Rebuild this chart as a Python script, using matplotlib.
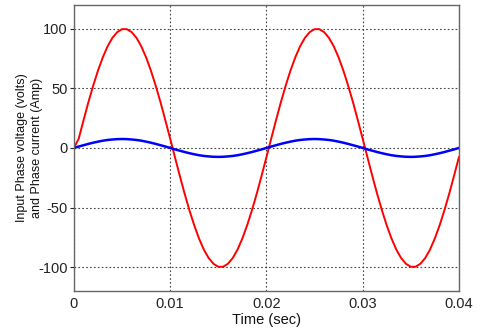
import numpy as np
import matplotlib
matplotlib.use("Agg")
import matplotlib.pyplot as plt

plt.rcParams['font.family'] = ['Liberation Sans', 'DejaVu Sans']
plt.rcParams['axes.unicode_minus'] = False

# sample times (sec), every 0.5 ms from 0 to 0.04
time_s = np.arange(81) * 0.0005

half_v = [7.8, 23.3, 38.3, 52.2, 64.9, 76.0, 85.3, 92.4, 97.2, 99.7,
          99.7, 97.2, 92.4, 85.3, 76.0, 64.9, 52.2, 38.3, 23.3, 7.8]
voltage = [0.0] + half_v + [-v for v in half_v] + half_v + [-v for v in half_v]

half_i = [1.2, 2.3, 3.4, 4.4, 5.3, 6.1, 6.7, 7.1, 7.4, 7.5,
          7.4, 7.1, 6.7, 6.1, 5.3, 4.4, 3.4, 2.3, 1.2, 0.0]
current = [0.0] + half_i + [-v for v in half_i] + half_i + [-v for v in half_i]

x_ticks = [0, 0.01, 0.02, 0.03, 0.04]
x_tick_labels = ['0', '0.01', '0.02', '0.03', '0.04']
y_ticks = [-100, -50, 0, 50, 100]

fig = plt.figure(figsize=(4.8, 3.31), dpi=100)
ax = fig.add_axes([0.154, 0.121, 0.802, 0.864])
ax.plot(time_s, voltage, color='#ff0000', lw=1.4)
ax.plot(time_s, current, color='#0000ff', lw=1.8)
ax.set_xlim(0, 0.04)
ax.set_ylim(-120, 120)
ax.set_xticks(x_ticks)
ax.set_xticklabels(x_tick_labels)
ax.set_yticks(y_ticks)
ax.grid(True, color='#444444', linestyle=(0, (1.5, 2.0)), linewidth=0.8)
ax.tick_params(axis='x', length=0, labelsize=10.5, colors='#222222', pad=4.7)
ax.tick_params(axis='y', direction='out', length=3, width=0.8, labelsize=10.5,
               colors='#222222', pad=1.5)
for s in ax.spines.values():
    s.set_color('#666666')
    s.set_linewidth(1.0)
ax.set_xlabel('Time (sec)', fontsize=10.5, va='top', color='#111111')
ax.xaxis.set_label_coords(0.5, -0.077)
ax.set_ylabel('Input Phase voltage (volts)\nand Phase current (Amp)', fontsize=9,
              linespacing=1.35, color='#111111')
ax.yaxis.set_label_coords(-0.08, 0.5)
fig.savefig('out.png', dpi=100)
